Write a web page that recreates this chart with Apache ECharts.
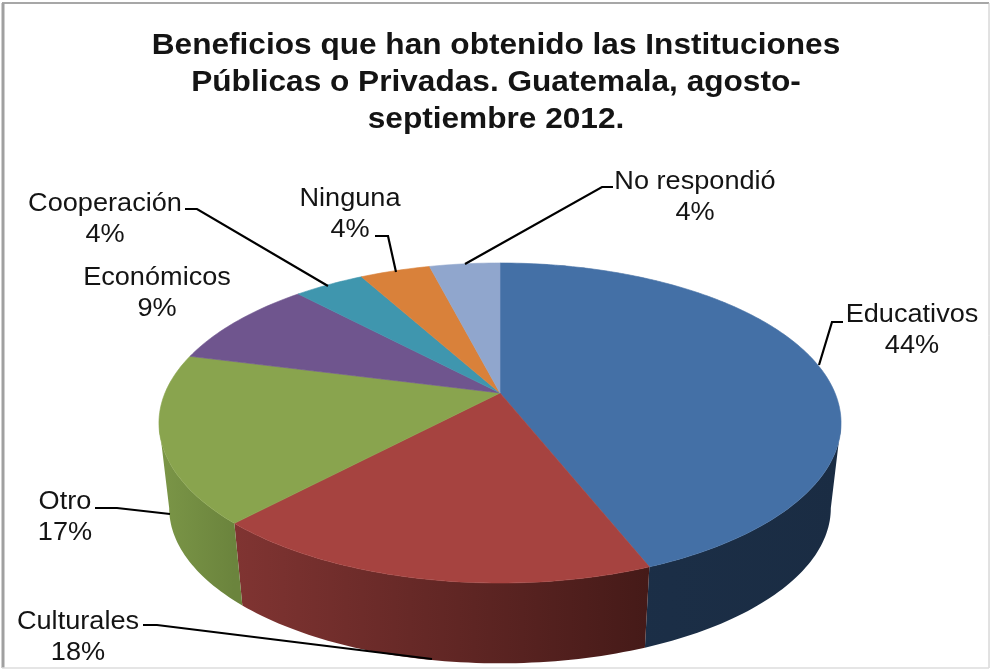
<!DOCTYPE html>
<html>
<head>
<meta charset="utf-8">
<style>html,body{margin:0;padding:0;background:#fff}#chart{width:990px;height:670px}</style>
<script src="https://cdn.jsdelivr.net/npm/echarts@6/dist/echarts.min.js"></script>
</head>
<body>
<div id="chart"></div>
<script>
// Survey results: benefits obtained, in percent
const categories = ['Educativos', 'Culturales', 'Otro', 'Económicos', 'Cooperación', 'Ninguna', 'No respondió'];
const values = [44, 18, 17, 9, 4, 4, 4];
const titleLines = ['Beneficios que han obtenido las Instituciones', 'Públicas o Privadas. Guatemala, agosto-', 'septiembre 2012.'];

// Slice styling
const topColors = ['#4470a6', '#a64340', '#89a44e', '#6f558e', '#3f96ae', '#d9813a', '#90a6cd'];
const sideStops = [
  ['#1c3049', '#1a2c43'],
  ['#803432', '#451a18'],
  ['#7b9647', '#6b843d'],
  ['#57416f', '#57416f'],
  ['#2f7588', '#2f7588'],
  ['#a9642c', '#a9642c'],
  ['#6f82a1', '#6f82a1']
];

// Perspective model of the tilted disc: a unit circle projected through w = 1 - k*v
const disc = { cx: 500, top: 393, bottom: 479, a: 335, b: 154.4, k: 0.1875, bottomScale: 0.97 };

// Text anchors and leader lines for each slice label
const labelLayouts = [
  { x: 912, y: 331, leader: [[819, 365], [832, 322], [843, 322]] },
  { x: 78, y: 638, leader: [[143, 625], [157, 625], [432, 659]] },
  { x: 65, y: 518, leader: [[95, 508], [117, 508], [170, 514]] },
  { x: 157, y: 294, leader: null },
  { x: 105, y: 220, leader: [[185, 209], [197, 209], [328, 286]] },
  { x: 350, y: 215, leader: [[375, 236], [388, 236], [396, 272]] },
  { x: 695, y: 198, leader: [[465, 264], [602, 187], [613, 187]] }
];

const FONT = '"Liberation Sans", Arial, sans-serif';
const TEXT_STRETCH = 1.085;
const total = values.reduce((s, v) => s + v, 0);

// Angles at which the projected rim reaches its widest extent; the wall is visible between them
const frontStart = Math.acos(-disc.k);
const frontEnd = 2 * Math.PI - frontStart;

function project(theta, level) {
  const u = Math.sin(theta);
  const v = -Math.cos(theta);
  const w = 1 - disc.k * v;
  const s = level === 'bottom' ? disc.bottomScale : 1;
  const cy = level === 'bottom' ? disc.bottom : disc.top;
  return [disc.cx + s * disc.a * u / w, cy + s * disc.b * v / w];
}

function sliceRange(i) {
  let before = 0;
  for (let j = 0; j < i; j++) before += values[j];
  return [before / total * 2 * Math.PI, (before + values[i]) / total * 2 * Math.PI];
}

function rim(start, end, level) {
  const steps = Math.max(4, Math.ceil((end - start) / 0.02));
  const pts = [];
  for (let s = 0; s <= steps; s++) pts.push(project(start + (end - start) * s / steps, level));
  return pts;
}

// Outer edge of a wall: lower rim across the front, upper rim behind the silhouette
function wallOutline(start, end) {
  const pts = [];
  const backA = Math.min(end, frontStart);
  const frontA = Math.max(start, frontStart);
  const frontB = Math.min(end, frontEnd);
  const backB = Math.max(start, frontEnd);
  if (backA > start) pts.push(...rim(start, backA, 'top'));
  if (frontB > frontA) pts.push(...rim(frontA, frontB, 'bottom'));
  if (end > backB) pts.push(...rim(backB, end, 'top'));
  return pts;
}

function renderSide(params) {
  const i = params.dataIndex;
  const [start, end] = sliceRange(i);
  const upper = rim(start, end, 'top');
  const xs = upper.map(p => p[0]);
  // The lit end of the wall sits on its left side on screen
  const fill = new echarts.graphic.LinearGradient(
    Math.min(...xs), 0, Math.max(...xs), 0,
    [{ offset: 0, color: sideStops[i][0] }, { offset: 1, color: sideStops[i][1] }],
    true
  );
  return {
    type: 'polygon',
    shape: { points: wallOutline(start, end).concat(upper.reverse()) },
    style: { fill: fill, stroke: null }
  };
}

function renderTop(params) {
  const i = params.dataIndex;
  const [start, end] = sliceRange(i);
  const pts = [[disc.cx, disc.top]].concat(rim(start, end, 'top'));
  return {
    type: 'polygon',
    shape: { points: pts },
    style: { fill: topColors[i], stroke: topColors[i], lineWidth: 0.6 }
  };
}

function renderLabel(params) {
  const i = params.dataIndex;
  const layout = labelLayouts[i];
  const children = [{
    type: 'text',
    x: layout.x,
    y: layout.y,
    scaleX: TEXT_STRETCH,
    style: {
      x: 0, y: 0,
      text: categories[i] + '\n' + values[i] + '%',
      font: '25px ' + FONT,
      lineHeight: 31,
      fill: '#141414',
      align: 'center',
      verticalAlign: 'middle'
    }
  }];
  if (layout.leader) {
    children.push({
      type: 'polyline',
      shape: { points: layout.leader },
      style: { stroke: '#000', lineWidth: 2.2, fill: null }
    });
  }
  return { type: 'group', children: children };
}

function borderLine(x1, y1, x2, y2, color, width) {
  return {
    type: 'line', silent: true, z: 100,
    shape: { x1: x1, y1: y1, x2: x2, y2: y2 },
    style: { stroke: color, lineWidth: width }
  };
}

const seriesData = values.map((v, i) => ({ name: categories[i], value: v }));

const chart = echarts.init(document.getElementById('chart'), null, { renderer: 'canvas' });
chart.setOption({
  backgroundColor: '#ffffff',
  animation: false,
  graphic: [
    {
      type: 'text',
      silent: true,
      x: 496,
      y: 83,
      scaleX: 1.09,
      style: {
        x: 0, y: 0,
        text: titleLines.join('\n'),
        font: 'bold 29px ' + FONT,
        lineHeight: 37,
        fill: '#141414',
        align: 'center',
        verticalAlign: 'middle'
      }
    },
    borderLine(2, 3, 989, 3, '#8a8a8a', 1.5),
    borderLine(3, 3, 3, 668, '#a0a0a0', 3),
    borderLine(989, 3, 989, 668, '#c4c4c4', 1),
    borderLine(2, 668, 989, 668, '#dcdcdc', 1.5)
  ],
  series: [
    { type: 'custom', name: 'Paredes', coordinateSystem: 'none', z: 1, silent: true, data: seriesData, renderItem: renderSide },
    { type: 'custom', name: 'Beneficios', coordinateSystem: 'none', z: 2, silent: true, data: seriesData, renderItem: renderTop },
    { type: 'custom', name: 'Etiquetas', coordinateSystem: 'none', z: 3, silent: true, data: seriesData, renderItem: renderLabel }
  ]
});
</script>
</body>
</html>
